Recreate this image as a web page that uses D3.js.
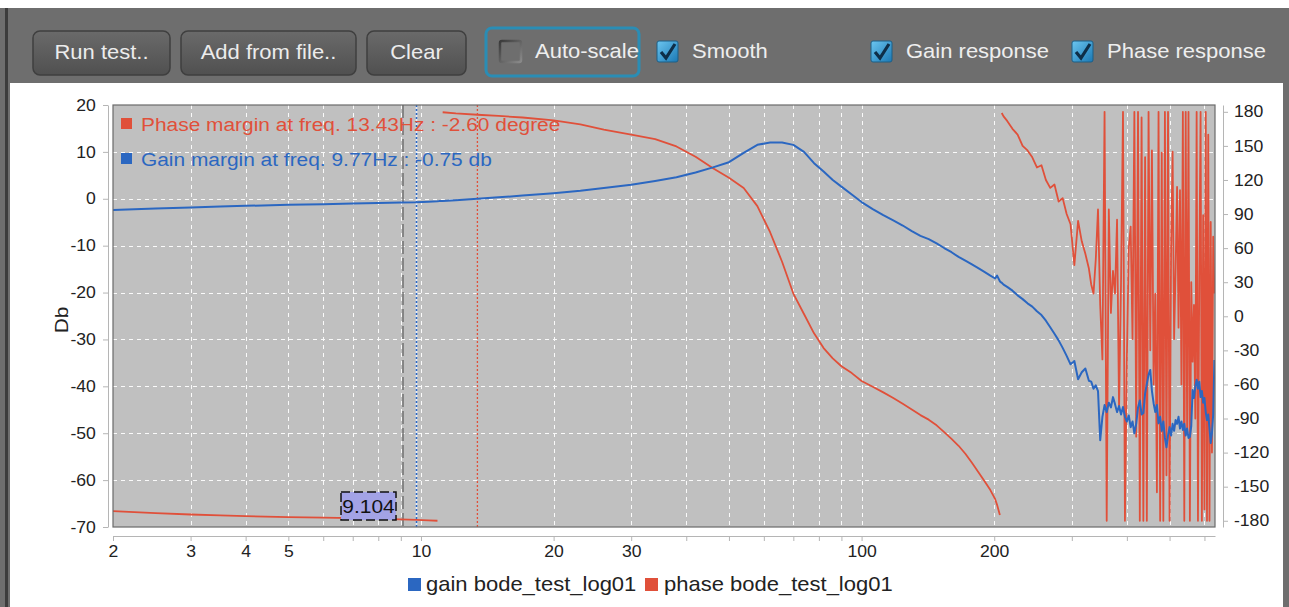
<!DOCTYPE html>
<html>
<head>
<meta charset="utf-8">
<script src="https://cdn.jsdelivr.net/npm/d3@7"></script>
<style>
  html, body { margin: 0; padding: 0; background: #fff; overflow: hidden; }
  text { font-family: "Liberation Sans", Arial, sans-serif; }
</style>
</head>
<body>
<svg id="chart" width="1289" height="607"></svg>
<script>
// ---- Measurement: bode_test_log01 ----
const freq = [
  2, 2.5, 3, 3.5, 4, 5, 6, 7, 8, 9,
  9.77, 10.4, 10.9, 11, 11.2, 12, 13.43, 15, 17, 20,
  23, 26, 30, 34, 38, 42, 46, 50, 54, 58,
  62, 66, 70, 74, 78, 82, 86, 90, 95, 100,
  106, 112, 118, 124, 130, 136, 142, 148, 154, 160,
  166, 172, 178, 184, 190, 196, 201, 203, 206, 207,
  208, 210,
  214, 220, 226, 232, 238, 244, 250, 256, 262, 268,
  274, 280, 286, 292, 298, 304, 310, 316, 322, 328,
  332, 336, 340, 344, 348, 352, 356, 360, 364, 368,
  372, 376, 380, 384, 388, 392, 396, 400, 404, 408,
  412, 416, 420, 424, 428, 432, 436, 440, 444, 448,
  452, 456, 460, 464, 468, 472, 476, 480, 484, 488,
  492, 496, 500, 504, 508, 512, 516, 520, 524, 528,
  532, 536, 540, 544, 548, 552, 556, 560, 564, 568,
  572, 576, 580, 584, 588, 592, 596, 600, 604, 608,
  612, 616, 620, 624, 628, 632
];

// gain response, dB
const gainDb = [
  -2.4, -2.1, -1.85, -1.65, -1.5, -1.3, -1.15, -1.0, -0.9, -0.8,
  -0.75, -0.65, -0.55, -0.5, -0.45, -0.3, 0.0, 0.3, 0.7, 1.2,
  1.7, 2.3, 3.0, 3.8, 4.6, 5.6, 6.7, 7.8, 9.8, 11.5,
  12.0, 12.0, 11.5, 10.0, 7.6, 5.8, 4.0, 2.6, 0.9, -0.7,
  -2.2, -3.5, -4.6, -5.7, -6.9, -7.9, -8.6, -9.5, -10.5, -11.4,
  -12.4, -13.2, -14.0, -14.8, -15.6, -16.4, -17.0, -16.4, -17.6, -17.8,
  -17.9, -18.3,
  -18.8, -19.6, -20.6, -21.4, -22.3, -23.0, -24.0, -24.8, -26.0, -27.4,
  -28.8, -30.2, -31.8, -33.5, -35.3, -34.6, -38.5, -37.0, -36.2, -38.8,
  -39.0, -40.5, -39.8, -41.0, -51.5, -46.5, -44.0, -45.5, -43.5, -44.5,
  -42.3, -43.8, -45.5, -44.2, -46.0, -44.4, -46.5, -47.5, -46.2, -48.7,
  -47.5, -50.0, -48.0, -44.5, -43.0, -46.0, -45.7, -41.5, -39.5, -37.5,
  -36.5, -41.0, -43.6, -45.5, -44.0, -47.9, -46.5, -49.5, -47.5, -51.0,
  -53.0, -50.5, -48.7, -50.5, -48.0, -49.5, -47.2, -48.0, -46.5, -49.0,
  -47.5, -49.3, -48.0, -50.5, -49.0, -51.0, -50.8, -48.5, -40.8, -42.5,
  -40.0, -38.6, -40.5, -39.0, -42.3, -41.0, -43.5, -42.5, -45.5, -47.2,
  -46.0, -49.0, -52.1, -50.0, -46.0, -34.4
];

// phase response, degrees (null marks a wrap from -180 to +180)
const phaseDeg = [
  -171.5, -173.2, -174.5, -175.3, -176, -176.8, -177.3, -177.7, -178.2, -178.8,
  -179.3, -179.7, -180, null, 179.6, 178.6, 177.4, 176.4, 175, 172.5,
  169, 164.3, 160, 156, 149.5, 140.5, 130.4, 122, 113, 97,
  74, 48, 20, 2, -15, -28, -37, -44, -50, -57,
  -62, -67, -72, -77, -82, -87, -91, -96, -102, -108,
  -114, -121, -129, -137, -145, -153, -161, -166, -175, null,
  179, 176,
  172, 165, 160, 150, 146, 140, 131, 133, 120, 113,
  116, 101, 104, 90, 81, 45, 84, 66, 55, 42,
  28, 20, 50, 94, 10, -38, 180, -180, 94, 3,
  40, 20, 85, -82, 30, 180, -180, -38, 60, 79,
  -20, 180, -106, 180, -180, 175, -180, 140, -180, 180,
  -30, 146, -60, 20, -155, 180, -180, 144, -180, 180,
  -140, 180, -180, 60, 145, -20, 40, 114, -10, 111,
  -60, 180, -180, 180, -100, 180, -180, 30, -40, 10,
  -90, 180, -180, 35, 180, -180, 89, -170, 180, -180,
  160, -180, 83, -120, 70, 20
];

const freqTicks = [2, 3, 4, 5, 6, 7, 8, 9, 10, 20, 30, 40, 50, 60, 70, 80, 90, 100, 200, 300, 400, 500, 600];
const freqTickLabels = [2, 3, 4, 5, 10, 20, 30, 100, 200];
const dbTicks = [20, 10, 0, -10, -20, -30, -40, -50, -60, -70];
const degTicks = [180, 150, 120, 90, 60, 30, 0, -30, -60, -90, -120, -150, -180];

const cursorFreq = 9.104;
const gainMarginFreq = 9.77, gainMarginDb = -0.75;
const phaseMarginFreq = 13.43, phaseMarginDeg = -2.60;

const seriesNames = ["gain bode_test_log01", "phase bode_test_log01"];
const buttonLabels = ["Run test..", "Add from file..", "Clear"];
const toggleLabels = ["Auto-scale", "Smooth", "Gain response", "Phase response"];
const toggleChecked = [false, true, true, true];

// ---- Drawing ----
const GAIN = "#2b67c1", PHASE = "#e0503a";
const SX = 1.1; // glyphs render a touch wide in this UI
const svg = d3.select("#chart");
const defs = svg.append("defs");

function label(g, s, x, y, size, opts = {}) {
  return g.append("text")
    .attr("transform", `translate(${x},${y}) scale(${opts.sx || SX},1)`)
    .attr("text-anchor", opts.anchor || "start")
    .attr("font-size", size)
    .attr("fill", opts.fill || "#222")
    .text(s);
}

// window frame
svg.append("rect").attr("x", 0).attr("y", 0).attr("width", 1289).attr("height", 607).attr("fill", "#fff");
svg.append("rect").attr("x", 0).attr("y", 8).attr("width", 1289).attr("height", 599).attr("fill", "#6e6e6e");
svg.append("rect").attr("x", 5).attr("y", 8).attr("width", 3).attr("height", 599).attr("fill", "#3c3c3c");
svg.append("rect").attr("x", 10).attr("y", 83).attr("width", 1273).attr("height", 524).attr("fill", "#fff");

// toolbar buttons
const btnGrad = defs.append("linearGradient").attr("id", "btn").attr("x1", 0).attr("y1", 0).attr("x2", 0).attr("y2", 1);
btnGrad.append("stop").attr("offset", "0%").attr("stop-color", "#6a6a6a");
btnGrad.append("stop").attr("offset", "100%").attr("stop-color", "#505050");
const btnX = [33, 181, 367], btnW = [137, 175, 99];
const toolbar = svg.append("g");
buttonLabels.forEach((b, i) => {
  toolbar.append("rect").attr("x", btnX[i]).attr("y", 31).attr("width", btnW[i]).attr("height", 44)
    .attr("rx", 7).attr("fill", "url(#btn)").attr("stroke", "#3f3f3f").attr("stroke-width", 1.5);
  label(toolbar, b, btnX[i] + btnW[i] / 2, 59, 20, { anchor: "middle", fill: "#ececec" });
});

// focus ring around the Auto-scale toggle
toolbar.append("rect").attr("x", 486).attr("y", 28).attr("width", 153).attr("height", 48)
  .attr("rx", 6).attr("fill", "none").attr("stroke", "#2a8db5").attr("stroke-width", 3);

const chkGrad = defs.append("linearGradient").attr("id", "chk").attr("x1", 0).attr("y1", 0).attr("x2", 1).attr("y2", 1);
chkGrad.append("stop").attr("offset", "0%").attr("stop-color", "#6cc6f0");
chkGrad.append("stop").attr("offset", "100%").attr("stop-color", "#1a78b4");
const offGrad = defs.append("linearGradient").attr("id", "chkoff").attr("x1", 0).attr("y1", 0).attr("x2", 1).attr("y2", 1);
offGrad.append("stop").attr("offset", "0%").attr("stop-color", "#3a3a3a");
offGrad.append("stop").attr("offset", "100%").attr("stop-color", "#8a8a8a");

const boxX = [500, 657, 871, 1072];
toggleLabels.forEach((t, i) => {
  const bx = boxX[i], by = 41;
  if (toggleChecked[i]) {
    toolbar.append("rect").attr("x", bx).attr("y", by).attr("width", 21).attr("height", 21).attr("rx", 2)
      .attr("fill", "url(#chk)").attr("stroke", "#1d5e86");
    toolbar.append("path").attr("d", `M${bx + 4},${by + 11} L${bx + 9},${by + 17} L${bx + 18},${by + 3}`)
      .attr("fill", "none").attr("stroke", "#0e2e48").attr("stroke-width", 3.2);
  } else {
    toolbar.append("rect").attr("x", bx).attr("y", by).attr("width", 21).attr("height", 21).attr("rx", 2)
      .attr("fill", "#6e6e6e").attr("stroke", "url(#chkoff)").attr("stroke-width", 2.5);
  }
  label(toolbar, t, bx + 35, 58, 20, { fill: "#eeeeee" });
});

// ---- plot ----
const P = { left: 113, right: 1215, top: 105, bottom: 527 };
const x = d3.scaleLog().domain([2, 634]).range([P.left, P.right]);
const yL = d3.scaleLinear().domain([-70, 20]).range([P.bottom, P.top]);
const yR = d3.scaleLinear().domain([-185.5, 186]).range([P.bottom, P.top]);

defs.append("clipPath").attr("id", "plotclip").append("rect")
  .attr("x", P.left).attr("y", P.top).attr("width", P.right - P.left).attr("height", P.bottom - P.top);

svg.append("rect").attr("x", P.left).attr("y", P.top).attr("width", P.right - P.left).attr("height", P.bottom - P.top)
  .attr("fill", "#c0c0c0");

const grid = svg.append("g").attr("stroke", "#fafafa").attr("stroke-dasharray", "4,4").attr("stroke-width", 1);
grid.selectAll(".vx").data(freqTicks.filter(f => f > 2)).enter().append("line")
  .attr("x1", d => Math.round(x(d)) + 0.5).attr("x2", d => Math.round(x(d)) + 0.5)
  .attr("y1", P.top).attr("y2", P.bottom);
grid.selectAll(".hy").data(dbTicks.filter(d => d < 20 && d > -70)).enter().append("line")
  .attr("y1", d => Math.round(yL(d)) + 0.5).attr("y2", d => Math.round(yL(d)) + 0.5)
  .attr("x1", P.left).attr("x2", P.right);

const plotG = svg.append("g").attr("clip-path", "url(#plotclip)");

// margin markers
plotG.append("line").attr("x1", x(phaseMarginFreq)).attr("x2", x(phaseMarginFreq))
  .attr("y1", P.top).attr("y2", P.bottom).attr("stroke", PHASE).attr("stroke-width", 1.3).attr("stroke-dasharray", "2,2");
plotG.append("line").attr("x1", x(gainMarginFreq)).attr("x2", x(gainMarginFreq))
  .attr("y1", P.top).attr("y2", P.bottom).attr("stroke", "#e8eef8").attr("stroke-width", 1.6);
plotG.append("line").attr("x1", x(gainMarginFreq)).attr("x2", x(gainMarginFreq))
  .attr("y1", P.top).attr("y2", P.bottom).attr("stroke", GAIN).attr("stroke-width", 1.6).attr("stroke-dasharray", "2,2");
// cursor
plotG.append("line").attr("x1", x(cursorFreq)).attr("x2", x(cursorFreq))
  .attr("y1", P.top).attr("y2", P.bottom).attr("stroke", "#666").attr("stroke-width", 1.3).attr("stroke-dasharray", "13,4");

const gainLine = d3.line().x((d, i) => x(freq[i])).y(d => yL(d));
const phaseLine = d3.line().defined(d => d !== null).x((d, i) => x(freq[i])).y(d => yR(d));

plotG.append("path").attr("d", phaseLine(phaseDeg)).attr("fill", "none")
  .attr("stroke", PHASE).attr("stroke-width", 1.8).attr("stroke-linejoin", "round");
plotG.append("path").attr("d", gainLine(gainDb)).attr("fill", "none")
  .attr("stroke", GAIN).attr("stroke-width", 2).attr("stroke-linejoin", "round");

// plot border
svg.append("rect").attr("x", P.left).attr("y", P.top).attr("width", P.right - P.left).attr("height", P.bottom - P.top)
  .attr("fill", "none").attr("stroke", "#6a6a6a").attr("stroke-width", 1.2);

// margin readouts
const leg = svg.append("g");
leg.append("rect").attr("x", 121).attr("y", 118).attr("width", 11).attr("height", 11).attr("fill", PHASE);
label(leg, `Phase margin at freq. ${phaseMarginFreq}Hz : ${phaseMarginDeg.toFixed(2)} degree`, 141, 131, 19, { fill: PHASE });
leg.append("rect").attr("x", 121).attr("y", 153).attr("width", 11).attr("height", 11).attr("fill", GAIN);
label(leg, `Gain margin at freq. ${gainMarginFreq}Hz : ${gainMarginDb.toFixed(2)} db`, 141, 166, 19, { fill: GAIN });

// cursor readout
const cx = x(cursorFreq);
svg.append("rect").attr("x", cx - 62).attr("y", 492).attr("width", 55).attr("height", 28)
  .attr("fill", "#a3a3e6").attr("stroke", "#111").attr("stroke-width", 1.5).attr("stroke-dasharray", "9,4");
label(svg, cursorFreq.toFixed(3), cx - 34.5, 513, 19, { anchor: "middle", fill: "#111" });

// ---- axes ----
function styleAxis(g) {
  g.select(".domain").attr("stroke", "#b5b5b5");
  g.selectAll(".tick line").attr("stroke", "#b5b5b5");
  g.selectAll(".tick text").attr("font-size", 16).attr("fill", "#222")
    .attr("font-family", '"Liberation Sans", Arial, sans-serif')
    .attr("transform", `scale(${SX},1)`);
}
const plain = d => String(d);
svg.append("g").attr("transform", `translate(${P.left - 5},0)`)
  .call(d3.axisLeft(yL).tickValues(dbTicks).tickFormat(plain).tickSize(5).tickPadding(6).tickSizeOuter(0))
  .call(styleAxis);
svg.append("g").attr("transform", `translate(0,${P.bottom + 9})`)
  .call(d3.axisBottom(x).tickValues(freqTicks).tickSize(5).tickPadding(5).tickSizeOuter(0)
    .tickFormat(d => freqTickLabels.includes(d) ? String(d) : ""))
  .call(styleAxis);
svg.append("g").attr("transform", `translate(${P.right + 8},0)`)
  .call(d3.axisRight(yR).tickValues(degTicks).tickFormat(plain).tickSize(5).tickPadding(5).tickSizeOuter(0))
  .call(styleAxis);

svg.append("text").attr("transform", `translate(68,320) rotate(-90) scale(${SX},1)`)
  .attr("text-anchor", "middle").attr("font-size", 19).attr("fill", "#222").text("Db");

// ---- series legend ----
const sl = svg.append("g");
sl.append("rect").attr("x", 408).attr("y", 578).attr("width", 13).attr("height", 13).attr("fill", GAIN);
label(sl, seriesNames[0], 426, 591, 20);
sl.append("rect").attr("x", 645).attr("y", 578).attr("width", 13).attr("height", 13).attr("fill", PHASE);
label(sl, seriesNames[1], 664, 591, 20);
</script>
</body>
</html>
